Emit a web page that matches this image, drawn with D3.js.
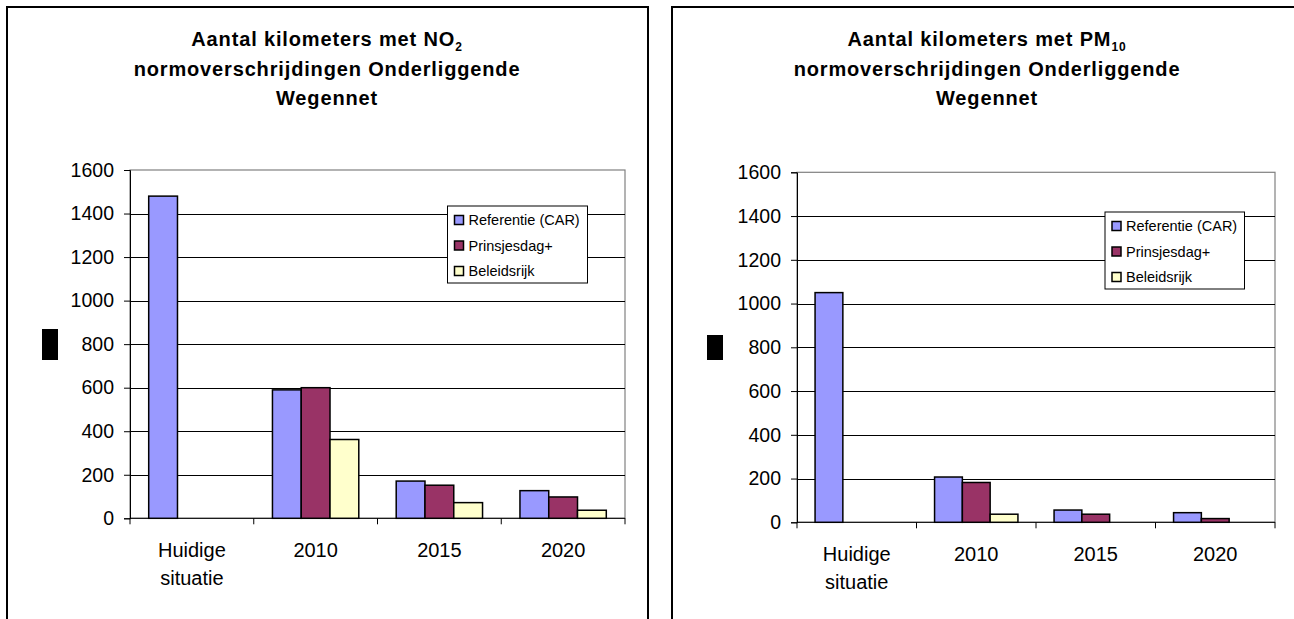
<!DOCTYPE html>
<html>
<head>
<meta charset="utf-8">
<script src="https://cdn.jsdelivr.net/npm/d3@7"></script>
<style>
  html, body { margin: 0; padding: 0; background: #fff; }
  svg { display: block; }
  text { font-family: "Liberation Sans", Arial, sans-serif; fill: #000; }
</style>
</head>
<body>
<svg id="chart" width="1294" height="619"></svg>
<script>
// ---- data ----
const categories = ["Huidige situatie", "2010", "2015", "2020"];
const seriesNames = ["Referentie (CAR)", "Prinsjesdag+", "Beleidsrijk"];
const seriesColors = ["#9999FF", "#993366", "#FFFFCC"];
const yTicks = [0, 200, 400, 600, 800, 1000, 1200, 1400, 1600];

const no2Referentie   = [1480, 590, 171, 127];
const no2Prinsjesdag  = [null, 600, 152, 98];
const no2Beleidsrijk  = [null, 362, 72, 37];

const pm10Referentie  = [1050, 207, 56, 44];
const pm10Prinsjesdag = [null, 182, 37, 17];
const pm10Beleidsrijk = [null, 37, 0, 0];

const no2TitleMain = "Aantal kilometers met NO";
const no2TitleSub = "2";
const pm10TitleMain = "Aantal kilometers met PM";
const pm10TitleSub = "10";
const titleLine2 = "normoverschrijdingen Onderliggende";
const titleLine3 = "Wegennet";

// ---- layout ----
const svg = d3.select("#chart");

function drawPanel(cfg) {
  const g = svg.append("g");
  // frame
  g.append("rect")
    .attr("x", cfg.frame.x).attr("y", cfg.frame.y)
    .attr("width", cfg.frame.w).attr("height", cfg.frame.h)
    .attr("fill", "#fff").attr("stroke", "#000").attr("stroke-width", 2);

  // title
  const ls = 0.85;
  const t1 = g.append("text").attr("x", cfg.titleX).attr("y", cfg.titleY[0])
    .attr("text-anchor", "middle").attr("font-weight", "bold")
    .attr("font-size", 20).attr("letter-spacing", ls);
  t1.append("tspan").text(cfg.titleMain);
  t1.append("tspan").attr("font-size", 12).attr("dy", 5).text(cfg.titleSub);
  g.append("text").attr("x", cfg.titleX).attr("y", cfg.titleY[1])
    .attr("text-anchor", "middle").attr("font-weight", "bold")
    .attr("font-size", 20).attr("letter-spacing", ls).text(titleLine2);
  g.append("text").attr("x", cfg.titleX).attr("y", cfg.titleY[2])
    .attr("text-anchor", "middle").attr("font-weight", "bold")
    .attr("font-size", 20).attr("letter-spacing", ls).text(titleLine3);

  const p = cfg.plot;
  const x = d3.scaleBand().domain(categories).range([p.x0, p.x1]);
  const y = d3.scaleLinear().domain([0, 1600]).range([p.y1, p.y0]);
  const bw = x.bandwidth() / 4.3;
  const xs = d3.scaleBand().domain(seriesNames).range([0, bw * 3]);
  const groupOffset = (x.bandwidth() - bw * 3) / 2;

  // plot area border
  g.append("rect").attr("x", p.x0).attr("y", y(1600))
    .attr("width", p.x1 - p.x0).attr("height", y(0) - y(1600))
    .attr("fill", "#fff").attr("stroke", "#808080").attr("stroke-width", 1.2);

  // gridlines
  g.append("g").selectAll("line")
    .data(yTicks.filter(v => v > 0 && v < 1600))
    .join("line")
    .attr("x1", p.x0).attr("x2", p.x1)
    .attr("y1", d => Math.round(y(d)) + 0.5).attr("y2", d => Math.round(y(d)) + 0.5)
    .attr("stroke", "#000").attr("stroke-width", 1);

  // y axis
  const yAxis = d3.axisLeft(y).tickValues(yTicks).tickSize(6).tickPadding(10)
    .tickFormat(d3.format("d"));
  const ya = g.append("g").attr("transform", `translate(${p.x0},0)`).call(yAxis);
  ya.select(".domain").attr("stroke", "#000");
  ya.selectAll(".tick line").attr("stroke", "#000");
  ya.selectAll(".tick text").attr("font-size", 19.5)
    .attr("font-family", '"Liberation Sans", Arial, sans-serif').attr("fill", "#000");

  // x axis: tick marks at band boundaries
  const bounds = categories.map(c => x(c)).concat([p.x1]);
  g.append("line").attr("x1", p.x0).attr("x2", p.x1)
    .attr("y1", y(0)).attr("y2", y(0)).attr("stroke", "#000").attr("stroke-width", 1);
  g.append("g").selectAll("line").data(bounds).join("line")
    .attr("x1", d => d).attr("x2", d => d)
    .attr("y1", y(0)).attr("y2", y(0) + 6)
    .attr("stroke", "#000").attr("stroke-width", 1);

  // category labels
  const lab = g.append("g").selectAll("text").data(categories).join("text")
    .attr("text-anchor", "middle").attr("font-size", 20)
    .attr("x", d => x(d) + x.bandwidth() / 2)
    .attr("y", y(0) + 38.5);
  lab.each(function(d) {
    const words = d.split(" ");
    const sel = d3.select(this);
    words.forEach((w, i) => {
      sel.append("tspan").attr("x", x(d) + x.bandwidth() / 2)
        .attr("dy", i === 0 ? 0 : 28.5).text(w);
    });
  });

  // bars
  const rows = categories.map((c, i) => ({
    cat: c,
    vals: cfg.series.map((s, j) => ({ name: seriesNames[j], v: s[i], color: seriesColors[j] }))
  }));
  const grp = g.append("g").selectAll("g").data(rows).join("g")
    .attr("transform", d => `translate(${x(d.cat) + groupOffset},0)`);
  grp.selectAll("rect").data(d => d.vals.filter(v => v.v !== null && v.v > 0)).join("rect")
    .attr("x", d => xs(d.name))
    .attr("width", xs.bandwidth())
    .attr("y", d => y(d.v))
    .attr("height", d => y(0) - y(d.v))
    .attr("fill", d => d.color)
    .attr("stroke", "#000").attr("stroke-width", 1.5);

  // legend
  const L = cfg.legend;
  const lg = g.append("g");
  lg.append("rect").attr("x", L.x).attr("y", L.y).attr("width", L.w).attr("height", L.h)
    .attr("fill", "#fff").attr("stroke", "#000").attr("stroke-width", 1);
  const rowsY = [14, 39.5, 65];
  const li = lg.selectAll("g.li").data(seriesNames).join("g").attr("class", "li")
    .attr("transform", (d, i) => `translate(${L.x},${L.y + rowsY[i]})`);
  li.append("rect").attr("x", 7).attr("y", -4.5).attr("width", 9).attr("height", 9)
    .attr("fill", (d, i) => seriesColors[i]).attr("stroke", "#000").attr("stroke-width", 1.5);
  li.append("text").attr("x", 21).attr("y", 0).attr("dy", "0.36em")
    .attr("font-size", 14.5).text(d => d);

  // axis-title placeholder block
  g.append("rect").attr("x", cfg.block.x).attr("y", cfg.block.y)
    .attr("width", cfg.block.w).attr("height", cfg.block.h).attr("fill", "#000");
}

drawPanel({
  frame: { x: 7, y: 7, w: 641, h: 640 },
  titleX: 327, titleY: [46, 75.5, 104.5],
  titleMain: no2TitleMain, titleSub: no2TitleSub,
  plot: { x0: 130, x1: 625, y0: 170, y1: 518.3 },
  series: [no2Referentie, no2Prinsjesdag, no2Beleidsrijk],
  legend: { x: 447.5, y: 206, w: 140, h: 77 },
  block: { x: 42, y: 329, w: 16, h: 31 }
});

drawPanel({
  frame: { x: 672, y: 7, w: 640, h: 640 },
  titleX: 987, titleY: [46, 75.5, 104.5],
  titleMain: pm10TitleMain, titleSub: pm10TitleSub,
  plot: { x0: 797, x1: 1275, y0: 172.3, y1: 522.3 },
  series: [pm10Referentie, pm10Prinsjesdag, pm10Beleidsrijk],
  legend: { x: 1105, y: 212, w: 139.5, h: 77 },
  block: { x: 707, y: 335, w: 16, h: 25 }
});
</script>
</body>
</html>
